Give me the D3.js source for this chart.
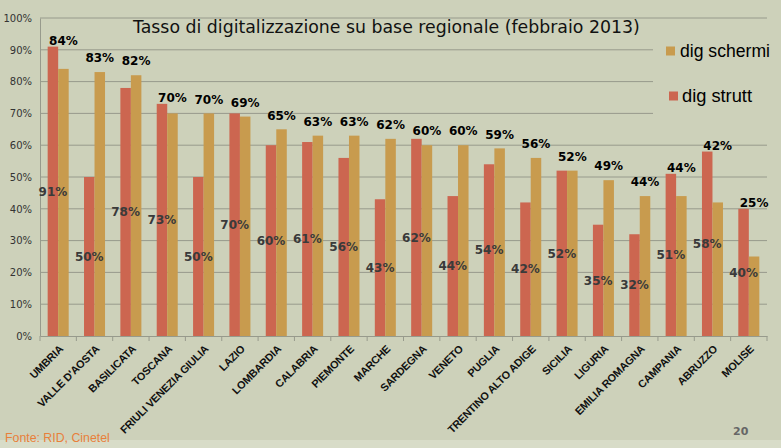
<!DOCTYPE html>
<html><head><meta charset="utf-8">
<script src="https://cdn.jsdelivr.net/npm/d3@7"></script>
<style>body{margin:0;background:#cdd1ba;} svg{display:block;}</style>
</head><body>
<svg id="c" width="781" height="448"></svg>
<script>
const categories = ["UMBRIA","VALLE D'AOSTA","BASILICATA","TOSCANA","FRIULI VENEZIA GIULIA","LAZIO","LOMBARDIA","CALABRIA","PIEMONTE","MARCHE","SARDEGNA","VENETO","PUGLIA","TRENTINO ALTO ADIGE","SICILIA","LIGURIA","EMILIA ROMAGNA","CAMPANIA","ABRUZZO","MOLISE"];
const digStrutt = [0.91,0.50,0.78,0.73,0.50,0.70,0.60,0.61,0.56,0.43,0.62,0.44,0.54,0.42,0.52,0.35,0.32,0.51,0.58,0.40];
const digSchermi = [0.84,0.83,0.82,0.70,0.70,0.69,0.65,0.63,0.63,0.62,0.60,0.60,0.59,0.56,0.52,0.49,0.44,0.44,0.42,0.25];
const yTicks = [0,0.1,0.2,0.3,0.4,0.5,0.6,0.7,0.8,0.9,1.0];
const seriesNames = ["dig strutt","dig schermi"];
const title = "Tasso di digitalizzazione su base regionale (febbraio 2013)";
const source = "Fonte: RID, Cinetel";
const pageNo = "20";

const cStrutt = "#cc6650", cSchermi = "#c89b4e";
const svg = d3.select("#c");
svg.append("rect").attr("width",781).attr("height",448).attr("fill","#cdd1ba");
svg.append("rect").attr("y",440).attr("width",781).attr("height",8).attr("fill","#d8dcc8");

const L=40, R=767, B=336, T=18;
const x = d3.scaleBand().domain(categories).range([L,R]).padding(0);
const xs = d3.scaleBand().domain(seriesNames).range([0,x.bandwidth()]).paddingInner(0).paddingOuter(0.73);
const y = d3.scaleLinear().domain([0,1]).range([B,T]);

// gridlines
svg.append("g").selectAll("line").data(yTicks.filter(d=>d>0)).join("line")
  .attr("x1",L).attr("x2",R).attr("y1",d=>y(d)).attr("y2",d=>y(d))
  .attr("stroke","#979a8c").attr("stroke-width",1);

// legend background patch
svg.append("rect").attr("x",653).attr("y",32).attr("width",120).attr("height",95).attr("fill","#cdd1ba");

// y axis
const yAxis = svg.append("g").attr("transform",`translate(${L},0)`)
  .call(d3.axisLeft(y).tickValues(yTicks).tickFormat(d3.format(".0%")).tickSize(0).tickPadding(8));
yAxis.select(".domain").attr("stroke","#979a8c");
yAxis.selectAll("text").attr("font-family","DejaVu Sans").attr("font-size",10).attr("fill","#333");

// x axis
const xAxis = svg.append("g").attr("transform",`translate(0,${B})`)
  .call(d3.axisBottom(x).tickSize(0).tickFormat(""));
xAxis.select(".domain").attr("stroke","#979a8c");
svg.append("g").selectAll("line").data(categories.concat(["__end"])).join("line")
  .attr("x1",(d,i)=>L+i*x.step()).attr("x2",(d,i)=>L+i*x.step())
  .attr("y1",B).attr("y2",B+5).attr("stroke","#979a8c");

svg.append("g").selectAll("text").data(categories).join("text")
  .attr("transform",d=>`translate(${x(d)+x.bandwidth()/2+3},${B+11}) rotate(-45)`)
  .attr("text-anchor","end").attr("dy","0.35em")
  .attr("font-family","Liberation Sans, sans-serif").attr("font-weight","bold")
  .attr("font-size",10.8).attr("letter-spacing","-0.2").attr("fill","#111").text(d=>d);

// bars
const g = svg.append("g");
g.selectAll(".bs").data(categories).join("rect")
  .attr("x",d=>x(d)+xs("dig strutt")).attr("width",xs.bandwidth())
  .attr("y",(d,i)=>y(digStrutt[i])).attr("height",(d,i)=>B-y(digStrutt[i])).attr("fill",cStrutt);
g.selectAll(".bc").data(categories).join("rect")
  .attr("x",d=>x(d)+xs("dig schermi")).attr("width",xs.bandwidth())
  .attr("y",(d,i)=>y(digSchermi[i])).attr("height",(d,i)=>B-y(digSchermi[i])).attr("fill",cSchermi);

const pf = d3.format(".0%");
// strutt labels (center)
svg.append("g").selectAll("text").data(categories).join("text")
  .attr("x",d=>x(d)+xs("dig strutt")+xs.bandwidth()/2)
  .attr("y",(d,i)=>y(digStrutt[i]/2)).attr("dy","0.35em").attr("text-anchor","middle")
  .attr("font-family","DejaVu Sans").attr("font-weight","bold").attr("font-size",12).attr("fill","#3a3a3a")
  .text((d,i)=>pf(digStrutt[i]));
// schermi labels (above)
svg.append("g").selectAll("text").data(categories).join("text")
  .attr("x",d=>x(d)+xs("dig schermi")+xs.bandwidth()/2)
  .attr("y",(d,i)=>Math.min(y(digSchermi[i])-14, y(digStrutt[i])-6)).attr("dy","0.35em").attr("text-anchor","middle")
  .attr("font-family","DejaVu Sans").attr("font-weight","bold").attr("font-size",12).attr("fill","#000")
  .text((d,i)=>pf(digSchermi[i]));

// title
const tt = svg.append("text").attr("x",133).attr("y",33).attr("font-family","DejaVu Sans")
  .attr("font-size",19).attr("fill","#111").text(title);
const tw = tt.node().getComputedTextLength();
tt.attr("font-size",19*507/tw);

// legend
const legend = [{name:"dig schermi",c:cSchermi,sx:666,tx:680,yc:51,w:90},{name:"dig strutt",c:cStrutt,sx:669,tx:682,yc:96,w:70}];
legend.forEach(l=>{
  svg.append("rect").attr("x",l.sx).attr("y",l.yc-4.5).attr("width",9).attr("height",9).attr("fill",l.c);
  const t = svg.append("text").attr("x",l.tx).attr("y",l.yc).attr("dy","0.35em")
    .attr("font-family","Liberation Sans, sans-serif").attr("font-size",18).attr("fill","#000").text(l.name);
  const w = t.node().getComputedTextLength();
  t.attr("font-size",18*l.w/w);
});

const st = svg.append("text").attr("x",5).attr("y",442).attr("font-family","Liberation Sans, sans-serif")
  .attr("font-size",13).attr("fill","#e8803a").text(source);
st.attr("font-size",13*105/st.node().getComputedTextLength());
svg.append("text").attr("x",733).attr("y",435).attr("font-family","DejaVu Sans").attr("font-weight","bold")
  .attr("font-size",11).attr("fill","#666").text(pageNo);
</script>
</body></html>
